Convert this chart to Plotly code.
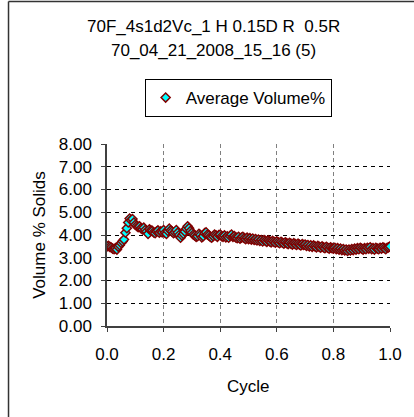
import plotly.graph_objects as go

cycle = [
    0.000, 0.005, 0.010, 0.015, 0.020, 0.025, 0.030, 0.035, 0.040, 0.045,
    0.050, 0.055, 0.060, 0.065, 0.070, 0.075, 0.080, 0.085, 0.090, 0.095,
    0.100, 0.105, 0.110, 0.115, 0.120, 0.125, 0.130, 0.135, 0.140, 0.145,
    0.150, 0.155, 0.160, 0.165, 0.170, 0.175, 0.180, 0.185, 0.190, 0.195,
    0.200, 0.205, 0.210, 0.215, 0.220, 0.225, 0.230, 0.235, 0.240, 0.245,
    0.250, 0.255, 0.260, 0.265, 0.270, 0.275, 0.280, 0.285, 0.290, 0.295,
    0.300, 0.305, 0.310, 0.315, 0.320, 0.325, 0.330, 0.335, 0.340, 0.345,
    0.350, 0.355, 0.360, 0.365, 0.370, 0.375, 0.380, 0.385, 0.390, 0.395,
    0.400, 0.405, 0.410, 0.415, 0.420, 0.425, 0.430, 0.435, 0.440, 0.445,
    0.450, 0.455, 0.460, 0.465, 0.470, 0.475, 0.480, 0.485, 0.490, 0.495,
    0.500, 0.505, 0.510, 0.515, 0.520, 0.525, 0.530, 0.535, 0.540, 0.545,
    0.550, 0.555, 0.560, 0.565, 0.570, 0.575, 0.580, 0.585, 0.590, 0.595,
    0.600, 0.605, 0.610, 0.615, 0.620, 0.625, 0.630, 0.635, 0.640, 0.645,
    0.650, 0.655, 0.660, 0.665, 0.670, 0.675, 0.680, 0.685, 0.690, 0.695,
    0.700, 0.705, 0.710, 0.715, 0.720, 0.725, 0.730, 0.735, 0.740, 0.745,
    0.750, 0.755, 0.760, 0.765, 0.770, 0.775, 0.780, 0.785, 0.790, 0.795,
    0.800, 0.805, 0.810, 0.815, 0.820, 0.825, 0.830, 0.835, 0.840, 0.845,
    0.850, 0.855, 0.860, 0.865, 0.870, 0.875, 0.880, 0.885, 0.890, 0.895,
    0.900, 0.905, 0.910, 0.915, 0.920, 0.925, 0.930, 0.935, 0.940, 0.945,
    0.950, 0.955, 0.960, 0.965, 0.970, 0.975, 0.980, 0.985, 0.990, 0.995,
    1.000]
avg_volume = [
    3.50, 3.52, 3.48, 3.45, 3.40, 3.38, 3.42, 3.36, 3.48, 3.55,
    3.65, 3.72, 3.80, 4.10, 4.30, 4.55, 4.72, 4.65, 4.70, 4.55,
    4.45, 4.40, 4.35, 4.38, 4.30, 4.25, 4.32, 4.22, 4.15, 4.05,
    4.25, 4.20, 4.18, 4.12, 4.08, 4.15, 4.20, 4.10, 4.16, 4.12,
    4.22, 4.10, 4.05, 4.18, 4.28, 4.20, 4.15, 4.08, 4.12, 4.22,
    4.10, 4.00, 3.88, 3.98, 4.05, 4.15, 4.28, 4.38, 4.30, 4.18,
    4.10, 4.02, 3.98, 3.92, 3.95, 4.05, 4.00, 3.90, 3.95, 4.08,
    4.12, 4.02, 3.98, 3.92, 3.88, 3.95, 4.02, 3.98, 3.92, 4.00,
    4.02, 3.95, 3.92, 3.98, 3.90, 3.94, 3.88, 3.96, 4.02, 3.92,
    3.95, 3.90, 3.86, 3.92, 3.84, 3.88, 3.92, 3.86, 3.82, 3.88,
    3.82, 3.86, 3.80, 3.84, 3.78, 3.82, 3.76, 3.80, 3.74, 3.78,
    3.72, 3.78, 3.74, 3.70, 3.76, 3.72, 3.68, 3.74, 3.70, 3.66,
    3.72, 3.68, 3.64, 3.70, 3.66, 3.62, 3.68, 3.64, 3.60, 3.66,
    3.62, 3.58, 3.64, 3.60, 3.56, 3.62, 3.58, 3.54, 3.60, 3.56,
    3.58, 3.52, 3.56, 3.50, 3.55, 3.48, 3.54, 3.50, 3.46, 3.52,
    3.48, 3.44, 3.50, 3.46, 3.42, 3.48, 3.44, 3.40, 3.46, 3.42,
    3.40, 3.44, 3.38, 3.42, 3.36, 3.40, 3.34, 3.38, 3.32, 3.36,
    3.30, 3.36, 3.32, 3.38, 3.34, 3.40, 3.36, 3.42, 3.38, 3.44,
    3.40, 3.36, 3.42, 3.38, 3.44, 3.40, 3.46, 3.38, 3.42, 3.36,
    3.44, 3.40, 3.38, 3.44, 3.40, 3.46, 3.42, 3.38, 3.44, 3.46,
    3.50]

x_ticks = [0.0, 0.2, 0.4, 0.6, 0.8, 1.0]
x_tick_text = ["0.0", "0.2", "0.4", "0.6", "0.8", "1.0"]
y_ticks = [0, 1, 2, 3, 4, 5, 6, 7, 8]
y_tick_text = ["0.00", "1.00", "2.00", "3.00", "4.00", "5.00", "6.00", "7.00", "8.00"]

FONT = "Liberation Sans, Arial, sans-serif"
FS = 17

fig = go.Figure()
fig.add_trace(go.Scatter(
    x=cycle, y=avg_volume, mode="markers", name="Average Volume%",
    marker=dict(symbol="diamond", size=7, color="#00FFFF",
                line=dict(color="#800000", width=1.5)),
))

axis_col = "#404040"
fig.update_layout(
    width=414, height=417,
    margin=dict(l=107, r=21, t=144, b=91),
    paper_bgcolor="white", plot_bgcolor="white",
    font=dict(family=FONT, size=FS, color="black"),
    showlegend=True,
    legend=dict(x=0.133, y=1.357, xanchor="left", yanchor="top",
                bordercolor="black", borderwidth=1, bgcolor="white",
                font=dict(family=FONT, size=FS)),
    xaxis=dict(range=[0, 1.0], tickvals=x_ticks, ticktext=x_tick_text,
               showgrid=True, gridcolor="#808080", griddash="4px,3px", gridwidth=1,
               showline=True, linecolor=axis_col, linewidth=1.5,
               ticks="outside", ticklen=4, tickcolor=axis_col, tickwidth=1,
               zeroline=False, ticklabelstandoff=8),
    yaxis=dict(range=[0, 8], tickvals=y_ticks, ticktext=y_tick_text,
               showgrid=True, gridcolor="black", griddash="4px,4px", gridwidth=1,
               showline=True, linecolor=axis_col, linewidth=1.5,
               ticks="outside", ticklen=4, tickcolor=axis_col, tickwidth=1,
               zeroline=False, ticklabelstandoff=6),
    xaxis2=dict(range=[0, 1.0], tickvals=x_ticks, overlaying="x", anchor="y2",
                showticklabels=False, showgrid=False, zeroline=False,
                ticks="inside", ticklen=4, tickcolor=axis_col, tickwidth=1, side="bottom"),
    yaxis2=dict(range=[0, 8], tickvals=y_ticks, overlaying="y", anchor="x2",
                showticklabels=False, showgrid=False, zeroline=False,
                ticks="inside", ticklen=4, tickcolor=axis_col, tickwidth=1, side="left"),
    annotations=[
        dict(text="70F_4s1d2Vc_1 H 0.15D R  0.5R", xref="paper", yref="paper",
             x=0.378, y=1.643, xanchor="center", yanchor="middle", showarrow=False,
             font=dict(family=FONT, size=FS)),
        dict(text="70_04_21_2008_15_16 (5)", xref="paper", yref="paper",
             x=0.378, y=1.516, xanchor="center", yanchor="middle", showarrow=False,
             font=dict(family=FONT, size=FS)),
        dict(text="Volume % Solids", xref="paper", yref="paper",
             x=-0.241, y=0.5, xanchor="center", yanchor="middle", textangle=-90,
             showarrow=False, font=dict(family=FONT, size=FS)),
        dict(text="Cycle", xref="paper", yref="paper",
             x=0.5, y=-0.335, xanchor="center", yanchor="middle",
             showarrow=False, font=dict(family=FONT, size=FS)),
    ],
    shapes=[
        dict(type="line", xref="paper", yref="paper", x0=-0.348, x1=1.2,
             y0=1.783, y1=1.783, line=dict(color="#333333", width=1.5)),
        dict(type="line", xref="paper", yref="paper", x0=-0.348, x1=-0.348,
             y0=1.783, y1=-0.6, line=dict(color="#333333", width=1.5)),
    ],
)

fig.write_html("out.html")
